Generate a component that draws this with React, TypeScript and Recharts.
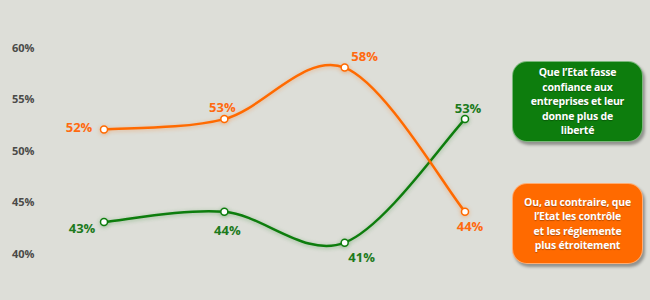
import React from 'react';
import { LineChart, Line, XAxis, YAxis, LabelList } from 'recharts';

const periods = ['P1', 'P2', 'P3', 'P4'];
const confianceValues = [43, 44, 41, 53];
const controleValues = [52, 53, 58, 44];
const yTicks = [40, 45, 50, 55, 60];

const confianceLines = ['Que l\u2019Etat fasse', 'confiance aux', 'entreprises et leur', 'donne plus de', 'liberté'];
const controleLines = ['Ou, au contraire, que', 'l\u2019Etat les contrôle', 'et les réglemente', 'plus étroitement'];

const GREEN = '#0d7d0d';
const ORANGE = '#ff6a00';
const FONT = '"Open Sans", "DejaVu Sans", sans-serif';

// label placement around each point (dx, dy)
const confianceOffsets = [[-22, 6], [3, 18], [17, 14], [3, -11]];
const controleOffsets = [[-25, -2], [-2, -12], [20, -12], [5, 14]];

const chartData = periods.map((p, i) => ({
  period: p,
  confiance: confianceValues[i],
  controle: controleValues[i],
}));

// Excel-like smoothed line (catmull-rom)
const smoothCurve = (context: any) => {
  let pts: number[][] = [];
  return {
    areaStart() {},
    areaEnd() {},
    lineStart() {
      pts = [];
    },
    point(x: number, y: number) {
      pts.push([+x, +y]);
    },
    lineEnd() {
      if (!pts.length) return;
      context.moveTo(pts[0][0], pts[0][1]);
      for (let i = 0; i < pts.length - 1; i++) {
        const p0 = pts[Math.max(i - 1, 0)];
        const p1 = pts[i];
        const p2 = pts[i + 1];
        const p3 = pts[Math.min(i + 2, pts.length - 1)];
        context.bezierCurveTo(
          p1[0] + (p2[0] - p0[0]) / 6,
          p1[1] + (p2[1] - p0[1]) / 6,
          p2[0] - (p3[0] - p1[0]) / 6,
          p2[1] - (p3[1] - p1[1]) / 6,
          p2[0],
          p2[1]
        );
      }
    },
  };
};

const makeLabel = (offsets: number[][], color: string) => (props: any) => {
  const { x, y, value, index } = props;
  const [dx, dy] = offsets[index] || [0, 0];
  return (
    <text
      x={x + dx}
      y={y + dy}
      textAnchor="middle"
      dominantBaseline="central"
      fill={color}
      fontSize={13}
      fontWeight={700}
      fontFamily={FONT}
    >
      {value}%
    </text>
  );
};

const YTick = ({ y, payload }: any) => (
  <text
    x={12}
    y={y}
    textAnchor="start"
    dominantBaseline="central"
    fill="#4a4a48"
    fontSize={11}
    fontWeight={700}
    fontFamily={FONT}
  >
    {payload.value}%
  </text>
);

const boxStyle = (color: string, top: number): React.CSSProperties => ({
  position: 'absolute',
  left: 512,
  top,
  boxSizing: 'border-box',
  width: 131,
  height: 81,
  backgroundColor: color,
  borderRadius: 15,
  border: '1px solid rgba(255,255,255,0.45)',
  boxShadow: '2px 3px 3px rgba(0,0,0,0.35)',
  color: '#fff',
  fontFamily: FONT,
  fontWeight: 700,
  fontSize: 10.5,
  lineHeight: '14.5px',
  textAlign: 'center',
  display: 'flex',
  flexDirection: 'column',
  alignItems: 'center',
  justifyContent: 'center',
  whiteSpace: 'nowrap',
  letterSpacing: -0.2,
  textShadow: '0 1px 1px rgba(0,0,0,0.3)',
});

export default function App() {
  return (
    <div style={{ width: 650, height: 300, background: '#dddeD8', position: 'relative' }}>
      <style>{'body{margin:0}'}</style>
      <LineChart
        width={650}
        height={300}
        data={chartData}
        margin={{ top: 47, right: 185, bottom: 47, left: 0 }}
      >
        <XAxis dataKey="period" hide />
        <YAxis
          domain={[40, 60]}
          ticks={yTicks}
          width={104}
          axisLine={false}
          tickLine={false}
          tick={<YTick />}
        />
        <Line
          dataKey="confiance"
          name={confianceLines.join(' ')}
          type={smoothCurve as any}
          stroke={GREEN}
          strokeWidth={2.5}
          dot={{ r: 3.5, fill: '#fff', stroke: GREEN, strokeWidth: 1.5 }}
          activeDot={false}
          isAnimationActive={false}
          style={{ filter: 'drop-shadow(0 1px 2px rgba(13,125,13,0.35))' }}
        >
          <LabelList dataKey="confiance" content={makeLabel(confianceOffsets, '#1c7a1c')} />
        </Line>
        <Line
          dataKey="controle"
          name={controleLines.join(' ')}
          type={smoothCurve as any}
          stroke={ORANGE}
          strokeWidth={2.5}
          dot={{ r: 3.5, fill: '#fff', stroke: ORANGE, strokeWidth: 1.5 }}
          activeDot={false}
          isAnimationActive={false}
          style={{ filter: 'drop-shadow(0 1px 2px rgba(255,106,0,0.35))' }}
        >
          <LabelList dataKey="controle" content={makeLabel(controleOffsets, '#ff6a10')} />
        </Line>
      </LineChart>
      <div style={boxStyle(GREEN, 61)}>
        {confianceLines.map((l) => (
          <div key={l}>{l}</div>
        ))}
      </div>
      <div style={boxStyle(ORANGE, 183)}>
        {controleLines.map((l) => (
          <div key={l}>{l}</div>
        ))}
      </div>
    </div>
  );
}
